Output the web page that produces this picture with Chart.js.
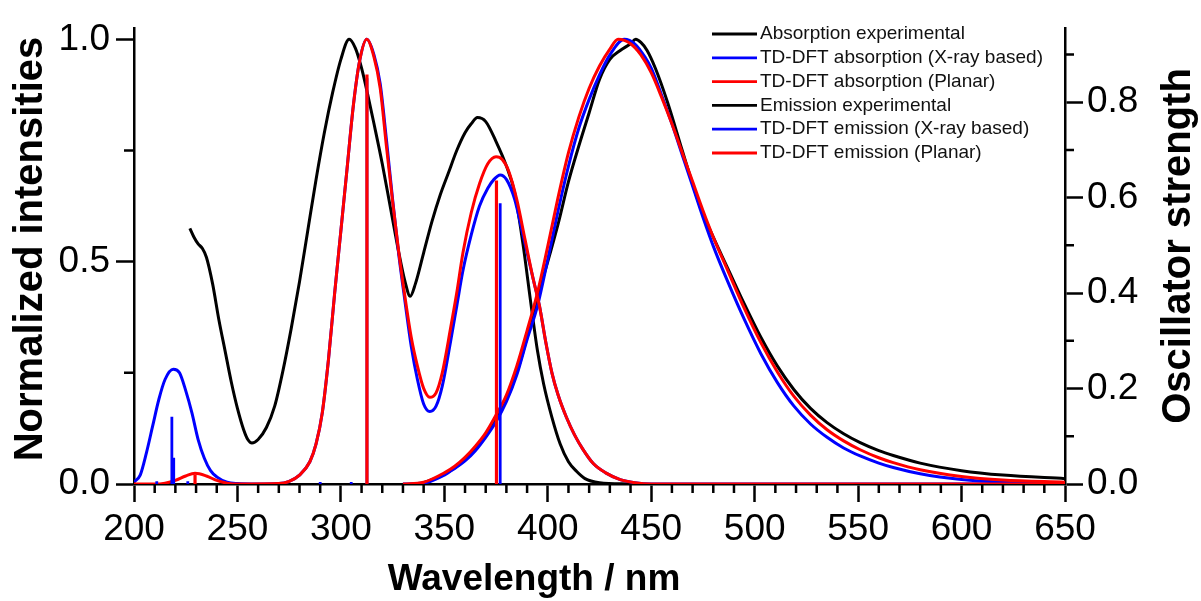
<!DOCTYPE html>
<html>
<head>
<meta charset="utf-8">
<title>Absorption / emission spectra</title>
<script src="https://cdn.jsdelivr.net/npm/chart.js@4.4.1/dist/chart.umd.min.js"></script>
<style>
  html, body { margin: 0; padding: 0; background: #fff; }
  #graph { width: 1201px; height: 601px; }
</style>
</head>
<body>
<div id="graph"><canvas width="1201" height="601"></canvas></div>
<script>
// Absorption experimental
const absExpNm = [227, 229, 231, 233, 235, 238, 241, 244, 247, 250, 253, 255, 257, 260, 264, 268, 272, 276, 280, 284,
  288, 292, 296, 300, 304, 307, 310, 313, 316, 320, 324, 328, 331, 333.5, 336, 340, 344, 348, 352, 356,
  360, 363, 366, 370, 375, 380, 384, 388, 392, 395, 398, 402, 406, 410, 414, 418, 425, 440];
const absExpI = [0.575, 0.555, 0.54, 0.53, 0.51, 0.45, 0.37, 0.3, 0.23, 0.17, 0.122, 0.1, 0.092, 0.1, 0.127, 0.175, 0.255, 0.35, 0.455, 0.57,
  0.685, 0.79, 0.88, 0.955, 1.0, 0.98, 0.935, 0.875, 0.81, 0.72, 0.62, 0.52, 0.455, 0.422, 0.45, 0.52, 0.59, 0.65, 0.7, 0.75,
  0.79, 0.81, 0.824, 0.815, 0.77, 0.715, 0.655, 0.54, 0.4, 0.3, 0.225, 0.15, 0.09, 0.05, 0.028, 0.012, 0.003, 0];

// TD-DFT absorption (X-ray based)
const absXrayNm = [200, 203, 206, 209, 212, 215, 219, 222, 225, 228, 231, 234, 237, 240, 245, 250, 260, 270, 275, 280,
  285, 288, 291, 294, 297, 300, 303, 306, 309, 312.5, 316, 319, 322, 325, 328, 331, 334, 337, 340, 343,
  346, 349, 353, 356, 359, 363, 367, 371, 374, 377, 380, 384, 388, 393, 396, 399, 402, 405, 409, 413,
  417, 422, 428, 435, 442, 450, 650];
const absXrayI = [0.005, 0.02, 0.07, 0.13, 0.19, 0.235, 0.258, 0.25, 0.21, 0.16, 0.1, 0.058, 0.03, 0.016, 0.004, 0.001, 0, 0.001, 0.006, 0.02,
  0.05, 0.09, 0.16, 0.28, 0.43, 0.57, 0.71, 0.85, 0.95, 1.0, 0.965, 0.9, 0.775, 0.64, 0.515, 0.41, 0.31, 0.235, 0.18, 0.163,
  0.175, 0.22, 0.32, 0.4, 0.48, 0.56, 0.625, 0.665, 0.685, 0.695, 0.685, 0.64, 0.56, 0.46, 0.4, 0.32, 0.25, 0.2, 0.15, 0.11,
  0.078, 0.046, 0.025, 0.01, 0.003, 0, 0];

// TD-DFT absorption (Planar)
const absPlanarNm = [200, 210, 215, 220, 225, 229.5, 235, 240, 245, 250, 270, 275, 280, 285, 288, 291, 294, 297, 300, 303,
  306, 309, 312.5, 316, 319, 322, 325, 328, 331, 334, 337, 340, 343, 346, 349, 353, 356, 359, 363, 367,
  371, 375, 378, 381, 385, 389, 393, 396, 399, 402, 405, 409, 413, 417, 422, 428, 435, 442, 450, 650];
const absPlanarI = [0, 0, 0.002, 0.008, 0.018, 0.024, 0.018, 0.008, 0.002, 0, 0.001, 0.006, 0.02, 0.05, 0.09, 0.16, 0.28, 0.43, 0.57, 0.71,
  0.85, 0.95, 1.0, 0.96, 0.89, 0.76, 0.635, 0.52, 0.42, 0.33, 0.265, 0.215, 0.195, 0.205, 0.25, 0.35, 0.43, 0.52, 0.61, 0.675,
  0.72, 0.736, 0.73, 0.705, 0.64, 0.55, 0.46, 0.4, 0.32, 0.25, 0.2, 0.15, 0.11, 0.078, 0.046, 0.025, 0.01, 0.003, 0, 0];

// Emission experimental
const emExpNm = [340, 350, 360, 370, 380, 385, 390, 395, 400, 405, 410, 415, 420, 425, 430, 435, 440, 442.5, 445, 448,
  452, 458, 465, 470, 474, 480, 487, 495, 503, 511, 519, 527, 535, 543, 551, 560, 567, 580, 600, 620, 650];
const emExpI = [0.003, 0.022, 0.055, 0.108, 0.19, 0.25, 0.33, 0.42, 0.5, 0.585, 0.68, 0.76, 0.835, 0.91, 0.955, 0.975, 0.99, 1.0, 0.993, 0.975,
  0.935, 0.857, 0.75, 0.675, 0.62, 0.555, 0.485, 0.405, 0.33, 0.265, 0.212, 0.17, 0.138, 0.113, 0.093, 0.075, 0.064, 0.047, 0.03, 0.02, 0.012];

// TD-DFT emission (X-ray based)
const emXrayNm = [330, 340, 350, 355, 360, 365, 370, 375, 380, 385, 390, 395, 400, 405, 410, 415, 420, 425, 430, 437,
  442, 447, 450, 455, 460, 465, 470, 475, 480, 487, 495, 503, 511, 519, 527, 535, 543, 551, 560, 567,
  580, 600, 620, 650];
const emXrayI = [0, 0.002, 0.02, 0.035, 0.052, 0.075, 0.105, 0.14, 0.185, 0.245, 0.325, 0.4, 0.505, 0.615, 0.715, 0.8, 0.865, 0.92, 0.965, 1.0,
  0.99, 0.96, 0.935, 0.875, 0.81, 0.74, 0.67, 0.6, 0.535, 0.455, 0.37, 0.293, 0.228, 0.175, 0.135, 0.105, 0.081, 0.063, 0.047, 0.037,
  0.023, 0.01, 0.004, 0.001];

// TD-DFT emission (Planar)
const emPlanarNm = [330, 340, 350, 355, 360, 365, 370, 375, 380, 385, 390, 395, 400, 405, 410, 415, 420, 425, 430, 434,
  440, 445, 450, 455, 460, 465, 470, 475, 480, 487, 495, 503, 511, 519, 527, 535, 543, 551, 560, 567,
  580, 600, 620, 650];
const emPlanarI = [0, 0.004, 0.025, 0.04, 0.06, 0.085, 0.115, 0.155, 0.2, 0.265, 0.345, 0.43, 0.535, 0.645, 0.745, 0.825, 0.89, 0.94, 0.978, 1.0,
  0.99, 0.965, 0.925, 0.87, 0.81, 0.745, 0.68, 0.615, 0.555, 0.48, 0.395, 0.318, 0.252, 0.197, 0.155, 0.122, 0.097, 0.077, 0.059, 0.048,
  0.032, 0.017, 0.009, 0.004];

// Oscillator strengths (right axis)
const xrayStickNm = [211, 218.3, 219.2, 226, 290, 305, 312.6, 377];
const xrayStickF = [0.006, 0.141, 0.055, 0.006, 0.004, 0.004, 0.85, 0.588];
const planarStickNm = [229.5, 312.6, 375.2];
const planarStickF = [0.02, 0.858, 0.636];

// axes
const xTicks = [200, 250, 300, 350, 400, 450, 500, 550, 600, 650];
const yTicks = [0.0, 0.5, 1.0];
const y2Ticks = [0.0, 0.2, 0.4, 0.6, 0.8];
const xTitle = "Wavelength / nm";
const yTitle = "Normalized intensities";
const y2Title = "Oscillator strength";

const FONT = '"Liberation Sans", Arial, Helvetica, sans-serif';
const BLACK = "#000000";
const BLUE = "#0000ff";
const RED = "#ff0000";

const toPoints = (nm, vals) => nm.map((x, i) => ({ x, y: vals[i] }));

// vertical sticks, separated by null so the line breaks between them
const toSticks = (nm, vals) => {
  const pts = [];
  nm.forEach((x, i) => {
    pts.push({ x, y: 0 }, { x, y: vals[i] }, { x, y: null });
  });
  return pts;
};

const curve = (label, nm, vals, color, order) => ({
  label,
  data: toPoints(nm, vals),
  borderColor: color,
  backgroundColor: color,
  borderWidth: 3,
  pointRadius: 0,
  cubicInterpolationMode: "monotone",
  yAxisID: "y",
  order,
});

const sticks = (nm, vals, color, width, order) => ({
  stick: true,
  data: toSticks(nm, vals),
  borderColor: color,
  borderWidth: width,
  pointRadius: 0,
  tension: 0,
  spanGaps: false,
  yAxisID: "y2",
  order,
});

const datasets = [
  curve("Absorption experimental", absExpNm, absExpI, BLACK, 6),
  curve("TD-DFT absorption (X-ray based)", absXrayNm, absXrayI, BLUE, 4),
  curve("TD-DFT absorption (Planar)", absPlanarNm, absPlanarI, RED, 2),
  curve("Emission experimental", emExpNm, emExpI, BLACK, 5),
  curve("TD-DFT emission (X-ray based)", emXrayNm, emXrayI, BLUE, 3),
  curve("TD-DFT emission (Planar)", emPlanarNm, emPlanarI, RED, 2),
  sticks(xrayStickNm, xrayStickF, BLUE, 2.8, 1),
  sticks(planarStickNm, planarStickF, RED, 3.2, 0),
];

// minor ticks, titles and the legend block
const decorations = {
  id: "decorations",
  afterDraw(chart) {
    const { ctx } = chart;
    const { x, y, y2 } = chart.scales;
    ctx.save();

    ctx.strokeStyle = BLACK;
    ctx.lineWidth = 2.5;
    ctx.beginPath();
    for (let v = 210; v < 650; v += 10) {
      if (v % 50 === 0) continue;
      const px = x.getPixelForValue(v);
      ctx.moveTo(px, x.top);
      ctx.lineTo(px, x.top + 9);
    }
    [0.25, 0.75].forEach((v) => {
      const py = y.getPixelForValue(v);
      ctx.moveTo(y.right, py);
      ctx.lineTo(y.right - 10, py);
    });
    [0.1, 0.3, 0.5, 0.7, 0.9].forEach((v) => {
      const py = y2.getPixelForValue(v);
      ctx.moveTo(y2.left, py);
      ctx.lineTo(y2.left + 9, py);
    });
    ctx.stroke();

    // axis titles
    ctx.fillStyle = BLACK;
    ctx.textAlign = "center";
    ctx.textBaseline = "alphabetic";
    ctx.font = "bold 37px " + FONT;
    ctx.fillText(xTitle, 534, 590);

    ctx.font = "bold 40px " + FONT;
    ctx.save();
    ctx.translate(42, 249);
    ctx.rotate(-Math.PI / 2);
    ctx.fillText(yTitle, 0, 0);
    ctx.restore();

    ctx.save();
    ctx.translate(1190, 246);
    ctx.rotate(-Math.PI / 2);
    ctx.fillText(y2Title, 0, 0);
    ctx.restore();

    // legend
    ctx.font = "19px " + FONT;
    ctx.textAlign = "left";
    ctx.textBaseline = "middle";
    chart.data.datasets
      .filter((d) => !d.stick)
      .forEach((d, i) => {
        const ly = 34 + i * 23.8;
        ctx.strokeStyle = d.borderColor;
        ctx.lineWidth = 2.8;
        ctx.beginPath();
        ctx.moveTo(712, ly);
        ctx.lineTo(757, ly);
        ctx.stroke();
        ctx.fillStyle = "#111";
        ctx.fillText(d.label, 760, ly);
      });

    ctx.restore();
  },
};

const tickFont = { family: FONT, size: 37 };
const gridOpts = { drawOnChartArea: false, tickLength: 18, tickColor: BLACK, tickWidth: 2.5 };
const borderOpts = { color: BLACK, width: 2.5 };

Chart.defaults.color = BLACK;

new Chart(document.querySelector("#graph canvas"), {
  type: "line",
  data: { datasets },
  plugins: [decorations],
  options: {
    responsive: false,
    animation: false,
    events: [],
    layout: { padding: { top: 24, left: 0, right: 0, bottom: 0 } },
    plugins: {
      legend: { display: false },
      tooltip: { enabled: false },
    },
    scales: {
      x: {
        type: "linear",
        min: xTicks[0],
        max: xTicks[xTicks.length - 1],
        afterBuildTicks: (s) => { s.ticks = xTicks.map((value) => ({ value })); },
        ticks: { font: tickFont, color: BLACK, padding: 6, maxRotation: 0, autoSkip: false },
        grid: gridOpts,
        border: borderOpts,
        afterFit: (s) => { s.height = 117; },
      },
      y: {
        type: "linear",
        position: "left",
        min: 0,
        max: 1.025,
        afterBuildTicks: (s) => { s.ticks = yTicks.map((value) => ({ value })); },
        ticks: { font: tickFont, color: BLACK, padding: 6, callback: (v) => v.toFixed(1) },
        grid: gridOpts,
        border: borderOpts,
        afterFit: (s) => { s.width = 134; },
      },
      y2: {
        type: "linear",
        position: "right",
        min: 0,
        max: 0.955,
        afterBuildTicks: (s) => { s.ticks = y2Ticks.map((value) => ({ value })); },
        ticks: { font: tickFont, color: BLACK, padding: 4, callback: (v) => v.toFixed(1) },
        grid: gridOpts,
        border: borderOpts,
        afterFit: (s) => { s.width = 136; },
      },
    },
  },
});
</script>
</body>
</html>
